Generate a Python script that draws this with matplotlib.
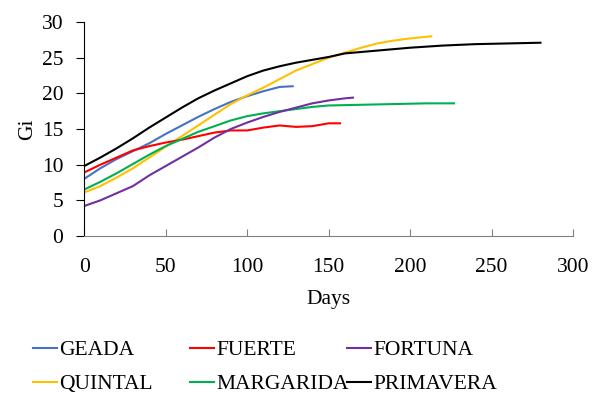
import matplotlib
matplotlib.use("Agg")
from matplotlib import pyplot as plt

plt.rcParams['font.family'] = 'serif'
plt.rcParams['font.serif'] = ['Liberation Serif', 'DejaVu Serif']

# (días, Gi)
geada_x = [0, 10, 20, 30, 40, 50, 60, 70, 80, 90, 100, 110, 120, 128]
geada_y = [8.0, 9.5, 10.8, 11.9, 13.0, 14.3, 15.5, 16.7, 17.8, 18.8, 19.6, 20.3, 20.9, 21.0]

fuerte_x = [0, 10, 20, 30, 40, 50, 60, 70, 80, 90, 100, 110, 120, 130, 140, 150, 157]
fuerte_y = [8.9, 10.0, 11.0, 12.0, 12.6, 13.1, 13.5, 14.0, 14.5, 14.8, 14.8, 15.2, 15.5, 15.3, 15.4, 15.8, 15.8]

fortuna_x = [0, 10, 20, 30, 40, 50, 60, 70, 80, 90, 100, 110, 120, 130, 140, 150, 160, 165]
fortuna_y = [4.2, 5.0, 6.0, 7.0, 8.5, 9.8, 11.1, 12.4, 13.8, 15.0, 15.9, 16.7, 17.4, 18.0, 18.6, 19.0, 19.3, 19.4]

quintal_x = [0, 10, 20, 30, 40, 50, 60, 70, 80, 90, 100, 110, 120, 130, 140, 150, 160, 170, 180, 190, 200, 213]
quintal_y = [6.1, 7.0, 8.2, 9.5, 11.0, 12.5, 14.0, 15.5, 17.0, 18.5, 19.7, 20.8, 22.0, 23.2, 24.1, 25.0, 25.7, 26.4, 27.0, 27.4, 27.7, 28.0]

margarida_x = [0, 10, 20, 30, 40, 50, 60, 70, 80, 90, 100, 110, 120, 130, 140, 150, 170, 190, 210, 227]
margarida_y = [6.5, 7.6, 8.8, 10.1, 11.4, 12.6, 13.6, 14.6, 15.4, 16.2, 16.8, 17.2, 17.5, 17.8, 18.1, 18.3, 18.4, 18.5, 18.6, 18.6]

primavera_x = [0, 10, 20, 30, 40, 50, 60, 70, 80, 90, 100, 110, 120, 130, 140, 150, 160, 180, 200, 220, 240, 260, 280]
primavera_y = [9.8, 11.0, 12.3, 13.7, 15.2, 16.6, 18.0, 19.3, 20.4, 21.4, 22.4, 23.2, 23.8, 24.3, 24.7, 25.1, 25.6, 26.0, 26.4, 26.7, 26.9, 27.0, 27.1]

# columnas de la leyenda: (GEADA, QUINTAL), (FUERTE, MARGARIDA), (FORTUNA, PRIMAVERA)
series = [
    ('GEADA', geada_x, geada_y, '#4472C4'),
    ('QUINTAL', quintal_x, quintal_y, '#FFC000'),
    ('FUERTE', fuerte_x, fuerte_y, '#FF0000'),
    ('MARGARIDA', margarida_x, margarida_y, '#00B050'),
    ('FORTUNA', fortuna_x, fortuna_y, '#7030A0'),
    ('PRIMAVERA', primavera_x, primavera_y, '#000000'),
]

fs = 15.5

fig = plt.figure(figsize=(5.92, 3.97), dpi=100)
ax = fig.add_axes([0.142, 0.4055, 0.826, 0.539])

lines = []
for name, xs, ys, col in series:
    l, = ax.plot(xs, ys, color=col, lw=1.5, label=name)
    lines.append(l)

ax.set_xlim(0, 300)
ax.set_ylim(0, 30)
ax.set_xticks(range(0, 301, 50))
ax.set_yticks(range(0, 31, 5))
ax.spines['top'].set_visible(False)
ax.spines['right'].set_visible(False)
ax.spines['bottom'].set_color('#808080')
ax.tick_params(axis='x', direction='in', length=5, colors='#808080', labelcolor='black', labelsize=fs, pad=16)
ax.tick_params(axis='y', direction='out', length=6, labelsize=fs, pad=9)
ax.set_xlabel('Days', fontsize=fs, labelpad=9)
ax.set_ylabel('Gi', fontsize=fs, labelpad=3)

# una leyenda por columna, como en el original
col_x = [33 / 592, 190 / 592, 347 / 592]
for i, x0 in enumerate(col_x):
    leg = fig.legend(lines[2 * i:2 * i + 2], [s[0] for s in series[2 * i:2 * i + 2]],
                     loc='upper left', bbox_to_anchor=(x0, 0.143), frameon=False,
                     fontsize=fs, handlelength=1.1, handletextpad=0.12,
                     borderpad=0, borderaxespad=0, labelspacing=0.64)

fig.savefig('out.png', dpi=100)
